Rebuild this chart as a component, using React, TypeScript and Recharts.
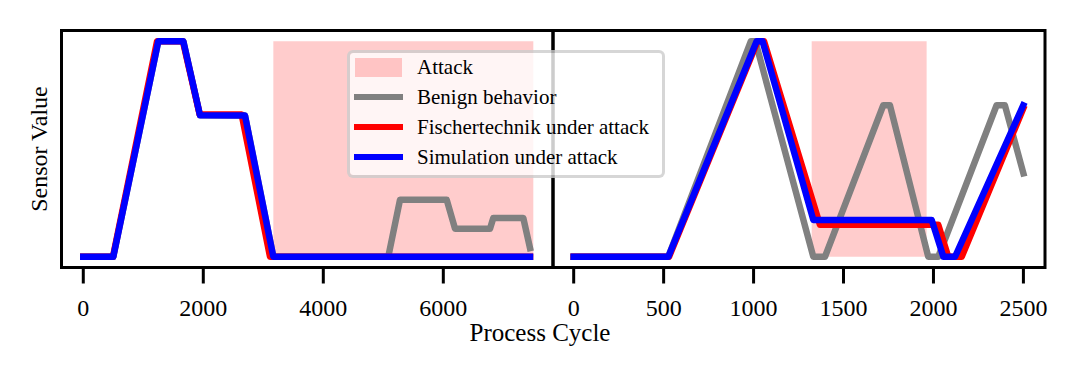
import { LineChart, Line, XAxis, YAxis, ReferenceArea } from "recharts";

const FONT = '"Liberation Serif", "Times New Roman", serif';

// process cycle, normalized sensor value
const leftBenign: [number, number][] = [
  [0, 0], [500, 0], [1250, 1], [1667, 1], [1945, 0.657], [2695, 0.655],
  [3167, 0], [5083, 0], [5278, 0.264], [6057, 0.264], [6195, 0.13],
  [6778, 0.13], [6833, 0.18], [7333, 0.18], [7445, 0.04],
];
const leftFischer: [number, number][] = [
  [0, 0], [495, 0], [1230, 1], [1660, 1], [1940, 0.66], [2640, 0.66],
  [3112, 0], [7445, 0],
];
const leftSim: [number, number][] = [
  [0, 0], [500, 0], [1250, 1], [1667, 1], [1945, 0.657], [2695, 0.655],
  [3167, 0], [7445, 0],
];
const rightBenign: [number, number][] = [
  [0, 0], [526, 0], [985, 1], [1010, 1], [1332, 0], [1397, 0],
  [1721, 0.703], [1758, 0.703], [1971, 0], [2027, 0], [2351, 0.703],
  [2397, 0.703], [2500, 0.387],
];
const rightFischer: [number, number][] = [
  [0, 0], [530, 0], [1022, 1], [1058, 1], [1369, 0.148], [2027, 0.148],
  [2082, 0], [2157, 0], [2499, 0.688],
];
const rightSim: [number, number][] = [
  [0, 0], [526, 0], [1017, 1], [1050, 1], [1332, 0.171], [1990, 0.171],
  [2055, 0], [2120, 0], [2499, 0.703],
];

const leftAttack = [3167, 7500];
const rightAttack = [1323, 1962];

const leftTicks = [0, 2000, 4000, 6000];
const rightTicks = [0, 500, 1000, 1500, 2000, 2500];

const leftDomain = [-363, 7828];
const rightDomain = [-115, 2620];
const yDomain = [-0.05, 1.05];

const LW = 6.5;

const toPts = (arr: [number, number][]) => arr.map(([x, y]) => ({ x, y }));

const Panel = ({
  benign,
  fischer,
  sim,
  attack,
  domain,
  ticks,
  width,
  marginLeft,
  marginRight,
}: {
  benign: [number, number][];
  fischer: [number, number][];
  sim: [number, number][];
  attack: number[];
  domain: number[];
  ticks: number[];
  width: number;
  marginLeft: number;
  marginRight: number;
}) => (
  <LineChart
    width={width}
    height={377}
    margin={{ top: 30.5, right: marginRight, bottom: 49.5, left: marginLeft }}
  >
    <XAxis
      dataKey="x"
      type="number"
      domain={domain}
      allowDataOverflow
      ticks={ticks}
      interval={0}
      height={60}
      axisLine={false}
      tickSize={16}
      tickMargin={15}
      tickLine={{ stroke: "#000", strokeWidth: 3 }}
      tick={{ fill: "#000", fontSize: 24, fontFamily: FONT }}
    />
    <YAxis type="number" domain={yDomain} allowDataOverflow hide width={0} />
    <ReferenceArea
      x1={attack[0]}
      x2={attack[1]}
      y1={0}
      y2={1}
      fill="#ff0000"
      fillOpacity={0.2}
      stroke="none"
      ifOverflow="visible"
    />
    <Line
      data={toPts(benign)}
      dataKey="y"
      stroke="#808080"
      strokeWidth={LW}
      strokeLinejoin="round"
      strokeLinecap="square"
      dot={false}
      activeDot={false}
      isAnimationActive={false}
    />
    <Line
      data={toPts(fischer)}
      dataKey="y"
      stroke="#ff0000"
      strokeWidth={LW}
      strokeLinejoin="round"
      strokeLinecap="square"
      dot={false}
      activeDot={false}
      isAnimationActive={false}
    />
    <Line
      data={toPts(sim)}
      dataKey="y"
      stroke="#0000ff"
      strokeWidth={LW}
      strokeLinejoin="round"
      strokeLinecap="square"
      dot={false}
      activeDot={false}
      isAnimationActive={false}
    />
    <ReferenceArea
      x1={domain[0]}
      x2={domain[1]}
      y1={yDomain[0]}
      y2={yDomain[1]}
      fill="none"
      stroke="#000"
      strokeWidth={3}
      ifOverflow="visible"
    />
  </LineChart>
);

const legendItems = [
  { label: "Attack", color: "rgba(255,0,0,0.2)", patch: true },
  { label: "Benign behavior", color: "#808080", patch: false },
  { label: "Fischertechnik under attack", color: "#ff0000", patch: false },
  { label: "Simulation under attack", color: "#0000ff", patch: false },
];

export default function App() {
  return (
    <div
      style={{
        position: "absolute",
        left: 0,
        top: 0,
        width: 1080,
        height: 377,
        background: "#fff",
        fontFamily: FONT,
      }}
    >
      <div style={{ position: "absolute", left: 0, top: 0 }}>
        <Panel
          benign={leftBenign}
          fischer={leftFischer}
          sim={leftSim}
          attack={leftAttack}
          domain={leftDomain}
          ticks={leftTicks}
          width={600}
          marginLeft={61.5}
          marginRight={47}
        />
      </div>
      <div style={{ position: "absolute", left: 543, top: 0 }}>
        <Panel
          benign={rightBenign}
          fischer={rightFischer}
          sim={rightSim}
          attack={rightAttack}
          domain={rightDomain}
          ticks={rightTicks}
          width={537}
          marginLeft={10}
          marginRight={35}
        />
      </div>

      {/* shared axis labels */}
      <div
        style={{
          position: "absolute",
          left: 0,
          top: 320,
          width: 1080,
          textAlign: "center",
          fontSize: 25,
          lineHeight: "25px",
          color: "#000",
        }}
      >
        Process Cycle
      </div>
      <div
        style={{
          position: "absolute",
          left: 39,
          top: 149,
          transform: "translate(-50%, -50%) rotate(-90deg)",
          whiteSpace: "nowrap",
          fontSize: 24,
          lineHeight: "24px",
          color: "#000",
        }}
      >
        Sensor Value
      </div>

      {/* legend */}
      <div
        style={{
          position: "absolute",
          left: 346.5,
          top: 50,
          width: 312,
          height: 122,
          border: "3px solid rgba(204,204,204,0.8)",
          borderRadius: 6,
          background: "rgba(255,255,255,0.8)",
          backgroundClip: "padding-box",
        }}
      >
        {legendItems.map((it, i) => {
          const cy = 14 + i * 30;
          return (
            <div key={it.label}>
              {it.patch ? (
                <div
                  style={{
                    position: "absolute",
                    left: 5.5,
                    top: cy - 9.5,
                    width: 47,
                    height: 19,
                    background: it.color,
                  }}
                />
              ) : (
                <div
                  style={{
                    position: "absolute",
                    left: 4.5,
                    top: cy - 2.75,
                    width: 49,
                    height: 5.5,
                    background: it.color,
                  }}
                />
              )}
              <div
                style={{
                  position: "absolute",
                  left: 67.5,
                  top: cy - 10.5,
                  fontSize: 21,
                  lineHeight: "21px",
                  whiteSpace: "nowrap",
                  color: "#000",
                }}
              >
                {it.label}
              </div>
            </div>
          );
        })}
      </div>
    </div>
  );
}
